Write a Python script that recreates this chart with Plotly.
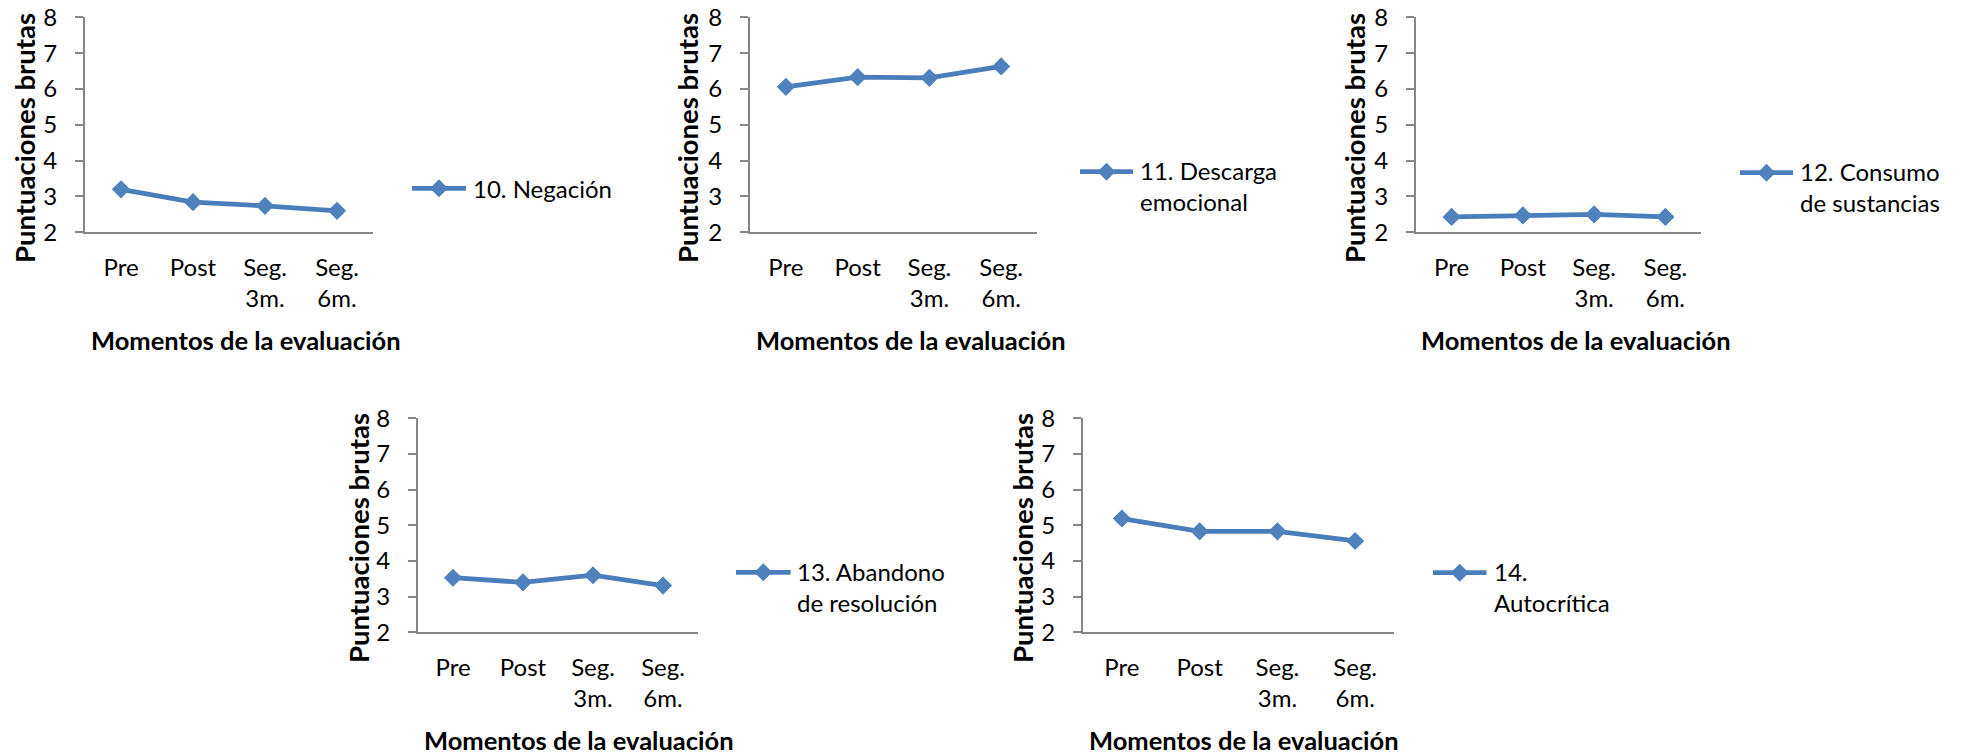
import plotly.graph_objects as go

# Evaluation moments (x categories)
momentos = ["Pre", "Post", "Seg.<br>3m.", "Seg.<br>6m."]

# Raw scores per coping scale
negacion = [3.20, 2.84, 2.74, 2.60]
descarga_emocional = [6.06, 6.33, 6.31, 6.63]
consumo_sustancias = [2.43, 2.47, 2.50, 2.43]
abandono_resolucion = [3.53, 3.40, 3.60, 3.31]
autocritica = [5.19, 4.83, 4.83, 4.56]

nombres = [
    "10. Negación",
    "11. Descarga<br>emocional",
    "12. Consumo<br>de sustancias",
    "13. Abandono<br>de resolución",
    "14.<br>Autocrítica",
]
series = [negacion, descarga_emocional, consumo_sustancias,
          abandono_resolucion, autocritica]

y_ticks = [2, 3, 4, 5, 6, 7, 8]
titulo_y = "Puntuaciones brutas"
titulo_x = "Momentos de la evaluación"

W, H = 1964, 755
FONT = "Lato, 'Open Sans', sans-serif"
FS = 24        # tick labels and legend text
FS_TX = 25.5   # bold x-axis titles
FS_TY = 27.5   # bold y-axis titles
LINE_C = "#4A7EBB"
MARK_C = "#4F81BD"
AXIS_C = "#868686"

# Panel geometry in pixels: plot box, title centres, legend placement
panels = [
    dict(x0=85, x1=373, top=17.3, bot=232.3, ytx=25, yty=138, xtx=246, xty=340,
         lx0=412, lx1=466, ly=188.3, tx=471),
    dict(x0=750, x1=1037, top=17.3, bot=232.3, ytx=688, yty=138, xtx=911, xty=340,
         lx0=1080, lx1=1133, ly=171.7, tx=1138),
    dict(x0=1416, x1=1701, top=17.3, bot=232.3, ytx=1355, yty=138, xtx=1576, xty=340,
         lx0=1740, lx1=1793, ly=172.7, tx=1798),
    dict(x0=418, x1=698, top=418.3, bot=632.3, ytx=358, yty=538, xtx=579, xty=740,
         lx0=736, lx1=790.6, ly=572.3, tx=795),
    dict(x0=1083, x1=1394, top=418.3, bot=632.3, ytx=1022, yty=538, xtx=1244, xty=740,
         lx0=1433, lx1=1486.5, ly=572.7, tx=1492),
]


def px(x):
    return x / W


def py(y):
    return 1 - y / H


fig = go.Figure()
shapes = []
annotations = []
layout_axes = {}

for i, (p, vals, nombre) in enumerate(zip(panels, series, nombres)):
    n = "" if i == 0 else str(i + 1)
    fig.add_trace(go.Scatter(
        x=momentos, y=vals, mode="lines+markers", name=nombre,
        xaxis="x" + n, yaxis="y" + n,
        line=dict(color=LINE_C, width=4.8),
        marker=dict(symbol="diamond", size=14, color=MARK_C,
                    line=dict(width=0)),
        showlegend=False, cliponaxis=False,
    ))
    layout_axes["xaxis" + n] = dict(
        domain=[px(p["x0"]), px(p["x1"])], anchor="y" + n,
        type="category", range=[-0.5, 3.5], automargin=False,
        showline=True, linecolor=AXIS_C, linewidth=2,
        showgrid=False, zeroline=False, ticks="",
        tickfont=dict(family=FONT, size=FS, color="black"),
        ticklabelstandoff=13,
    )
    layout_axes["yaxis" + n] = dict(
        domain=[py(p["bot"]), py(p["top"])], anchor="x" + n,
        range=[2, 8], tickvals=y_ticks, automargin=False,
        showline=True, linecolor=AXIS_C, linewidth=2,
        showgrid=False, zeroline=False,
        ticks="outside", ticklen=8, tickcolor=AXIS_C, tickwidth=2,
        tickfont=dict(family=FONT, size=FS, color="black"),
        ticklabelstandoff=13,
    )
    # axis titles
    annotations.append(dict(
        text="<b>" + titulo_y + "</b>", textangle=-90,
        x=px(p["ytx"]), y=py(p["yty"]), xref="paper", yref="paper",
        xanchor="center", yanchor="middle", showarrow=False,
        font=dict(family=FONT, size=FS_TY, color="black"),
    ))
    annotations.append(dict(
        text="<b>" + titulo_x + "</b>",
        x=px(p["xtx"]), y=py(p["xty"]), xref="paper", yref="paper",
        xanchor="center", yanchor="middle", showarrow=False,
        font=dict(family=FONT, size=FS_TX, color="black"),
    ))
    # legend key: line with a diamond
    shapes.append(dict(
        type="line", xref="paper", yref="paper",
        x0=px(p["lx0"]), x1=px(p["lx1"]), y0=py(p["ly"]), y1=py(p["ly"]),
        line=dict(color=LINE_C, width=4.8),
    ))
    cx, cy = (p["lx0"] + p["lx1"]) / 2, p["ly"]
    hw, hh = 9, 9
    shapes.append(dict(
        type="path", xref="paper", yref="paper",
        path=(f"M {px(cx)},{py(cy - hh)} L {px(cx + hw)},{py(cy)} "
              f"L {px(cx)},{py(cy + hh)} L {px(cx - hw)},{py(cy)} Z"),
        fillcolor=MARK_C, line=dict(width=0),
    ))
    two_lines = "<br>" in nombre
    annotations.append(dict(
        text=nombre, align="left",
        x=px(p["tx"]), y=py(p["ly"] - (FS * 0.72 if two_lines else 0)),
        xref="paper", yref="paper",
        xanchor="left", yanchor="top" if two_lines else "middle",
        showarrow=False,
        font=dict(family=FONT, size=FS, color="black"),
    ))

fig.update_layout(
    width=W, height=H,
    margin=dict(l=0, r=0, t=0, b=0, pad=0),
    paper_bgcolor="white", plot_bgcolor="white",
    shapes=shapes, annotations=annotations,
    **layout_axes,
)

fig.write_html("out.html")
